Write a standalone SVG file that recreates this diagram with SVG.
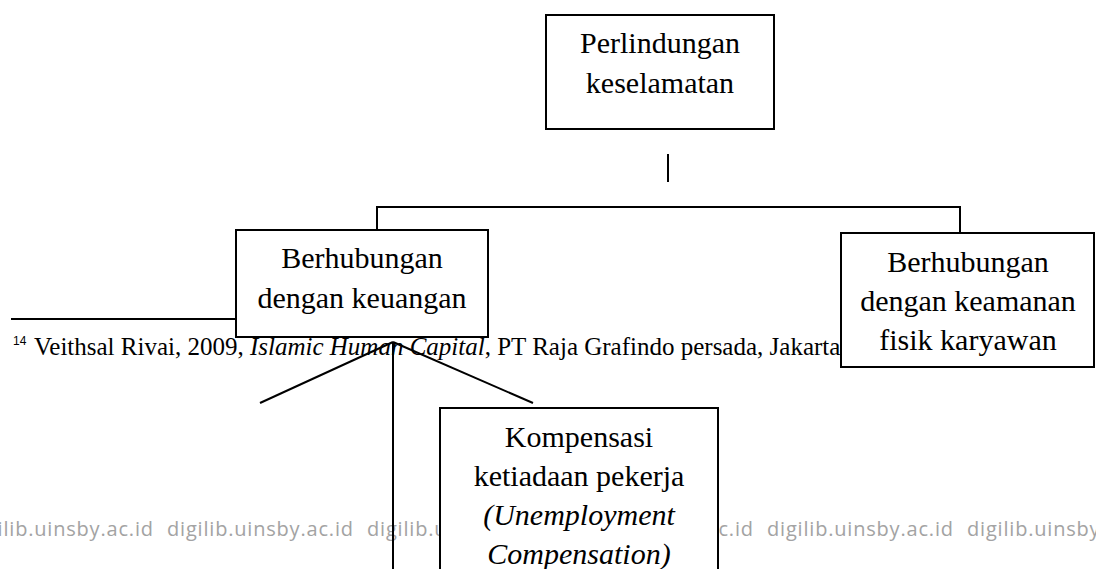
<svg xmlns="http://www.w3.org/2000/svg" width="1096" height="569" viewBox="0 0 1096 569">
  <style>
    .box { fill: #ffffff; stroke: #000000; stroke-width: 2; }
    .lbl { font-family: "Liberation Serif", "Times New Roman", serif; font-size: 30px; fill: #000000; text-anchor: middle; }
    .it { font-style: italic; }
    .conn { fill: none; stroke: #000000; stroke-width: 2; }
    .fn { font-family: "Liberation Serif", "Times New Roman", serif; font-size: 25px; fill: #000000; }
    .sup { font-family: "Liberation Sans", Arial, sans-serif; font-size: 12px; fill: #000000; }
    .wm { font-family: "Open Sans", "Liberation Sans", sans-serif; font-size: 20px; fill: #a3a3a3; }
  </style>
  <rect x="0" y="0" width="1096" height="569" fill="#ffffff"/>

  <g id="footnote">
    <line x1="11" y1="319" x2="236" y2="319" stroke="#000000" stroke-width="2"/>
    <text class="sup" x="13" y="345">14</text>
    <text class="fn" x="34" y="355">Veithsal Rivai, 2009, <tspan class="it">Islamic Human Capital</tspan>, PT Raja Grafindo persada, Jakarta</text>
  </g>

  <g id="watermark">
    <text class="wm" x="-33" y="536" textLength="186" lengthAdjust="spacing">digilib.uinsby.ac.id</text>
    <text class="wm" x="167" y="536" textLength="186" lengthAdjust="spacing">digilib.uinsby.ac.id</text>
    <text class="wm" x="367" y="536" textLength="186" lengthAdjust="spacing">digilib.uinsby.ac.id</text>
    <text class="wm" x="567" y="536" textLength="186" lengthAdjust="spacing">digilib.uinsby.ac.id</text>
    <text class="wm" x="767" y="536" textLength="186" lengthAdjust="spacing">digilib.uinsby.ac.id</text>
    <text class="wm" x="967" y="536" textLength="186" lengthAdjust="spacing">digilib.uinsby.ac.id</text>
  </g>

  <g id="connectors">
    <line class="conn" x1="668" y1="154" x2="668" y2="182"/>
    <polyline class="conn" points="377,231 377,207 960,207 960,234"/>
    <line class="conn" x1="393" y1="342" x2="260" y2="403"/>
    <line class="conn" x1="393" y1="342" x2="533" y2="403"/>
    <line class="conn" x1="393" y1="342" x2="393" y2="569"/>
  </g>

  <g id="node-perlindungan">
    <rect class="box" x="546" y="15" width="228" height="114"/>
    <text class="lbl" x="660" y="53">Perlindungan</text>
    <text class="lbl" x="660" y="93">keselamatan</text>
  </g>

  <g id="node-keuangan">
    <rect class="box" x="236" y="230" width="252" height="107"/>
    <text class="lbl" x="362" y="268">Berhubungan</text>
    <text class="lbl" x="362" y="308">dengan keuangan</text>
  </g>

  <g id="node-keamanan">
    <rect class="box" x="841" y="233" width="253" height="134"/>
    <text class="lbl" x="968" y="272">Berhubungan</text>
    <text class="lbl" x="968" y="311">dengan keamanan</text>
    <text class="lbl" x="968" y="350">fisik karyawan</text>
  </g>

  <g id="node-kompensasi">
    <rect class="box" x="440" y="408" width="278" height="180"/>
    <text class="lbl" x="579" y="447">Kompensasi</text>
    <text class="lbl" x="579" y="486">ketiadaan pekerja</text>
    <text class="lbl it" x="579" y="525">(Unemployment</text>
    <text class="lbl it" x="579" y="564">Compensation)</text>
  </g>
</svg>
